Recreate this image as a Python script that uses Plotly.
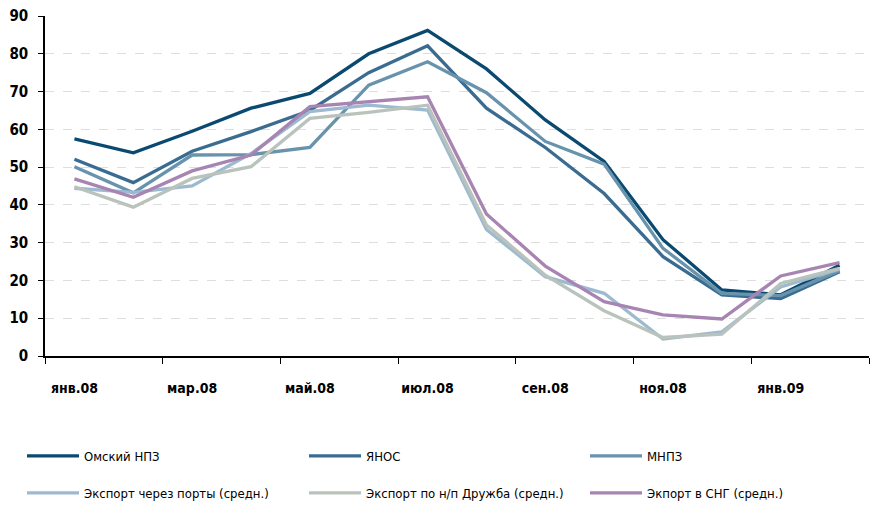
import plotly.graph_objects as go

months = ["янв.08", "фев.08", "мар.08", "апр.08", "май.08", "июн.08", "июл.08",
          "авг.08", "сен.08", "окт.08", "ноя.08", "дек.08", "янв.09", "фев.09"]

omsk = [57.5, 53.8, 59.5, 65.6, 69.5, 80.0, 86.2, 76.0, 62.5, 51.5, 30.8, 17.5, 16.2, 24.0]
yanos = [52.1, 45.9, 54.2, 59.4, 65.0, 75.0, 82.1, 65.6, 55.2, 43.0, 26.3, 16.2, 15.2, 22.3]
mnpz = [50.1, 43.2, 53.2, 53.3, 55.2, 71.7, 77.9, 69.7, 56.8, 50.8, 28.5, 16.6, 16.0, 22.6]
ports = [44.4, 43.3, 45.0, 53.6, 64.7, 66.4, 65.1, 33.5, 21.0, 16.6, 4.5, 6.4, 18.3, 23.0]
druzhba = [44.8, 39.4, 47.0, 50.1, 62.9, 64.5, 66.4, 34.7, 21.4, 12.0, 4.9, 5.8, 19.2, 23.2]
sng = [46.9, 42.0, 49.0, 53.2, 66.0, 67.3, 68.6, 37.6, 23.8, 14.4, 10.9, 9.8, 21.2, 24.7]

names = ["Омский НПЗ", "ЯНОС", "МНПЗ",
         "Экспорт через порты (средн.)", "Экспорт по н/п Дружба (средн.)", "Экпорт в СНГ (средн.)"]
series = [omsk, yanos, mnpz, ports, druzhba, sng]
colors = ["#0b4a70", "#3a6c91", "#6893ad", "#9dbad0", "#b9c3bc", "#a884b3"]

FONT = "DejaVu Sans Condensed, DejaVu Sans, sans-serif"

fig = go.Figure()
legend_ids = ["legend", "legend2", "legend3", "legend4", "legend5", "legend6"]
for name, vals, col, lg in zip(names, series, colors, legend_ids):
    fig.add_trace(go.Scatter(x=months, y=vals, mode="lines", name=name,
                             line=dict(color=col, width=3.3), legend=lg))

legend_common = dict(orientation="h", xref="container", yref="container",
                     xanchor="left", yanchor="middle", itemwidth=52,
                     font=dict(family=FONT, size=13, color="#000000"),
                     bgcolor="rgba(0,0,0,0)",
                     itemclick=False, itemdoubleclick=False)

col_x = [22 / 871, 304 / 871, 585 / 871]
row_y = [(506 - 456) / 506, (506 - 493) / 506]
legend_layout = {}
for i, lg in enumerate(legend_ids):
    legend_layout[lg] = dict(x=col_x[i % 3], y=row_y[i // 3], **legend_common)

fig.update_layout(
    width=871, height=506,
    margin=dict(l=45, r=2, t=16, b=150, autoexpand=False),
    paper_bgcolor="white", plot_bgcolor="white",
    showlegend=True,
    **legend_layout,
    xaxis=dict(type="category", tickson="boundaries", dtick=2, tick0=0,
               ticks="outside", ticklen=6, tickcolor="#000", tickwidth=1,
               showline=True, linecolor="#000", linewidth=1.5,
               showgrid=False, zeroline=False, automargin=False,
               ticklabelstandoff=18, tickangle=0,
               tickfont=dict(family=FONT, size=14, color="#000", weight="bold"),
               range=[-0.5, 13.5]),
    yaxis=dict(range=[0, 90], dtick=10, tick0=0,
               ticks="outside", ticklen=5, tickcolor="#000", tickwidth=1,
               showline=True, linecolor="#000", linewidth=1.5,
               showgrid=True, gridcolor="#dedede", griddash="dash", gridwidth=1,
               zeroline=False, ticklabelstandoff=7, automargin=False,
               tickfont=dict(family=FONT, size=15, color="#000", weight="bold")),
)

fig.write_html("out.html", config={"displayModeBar": False},
               post_script="document.body.style.margin='0';")
